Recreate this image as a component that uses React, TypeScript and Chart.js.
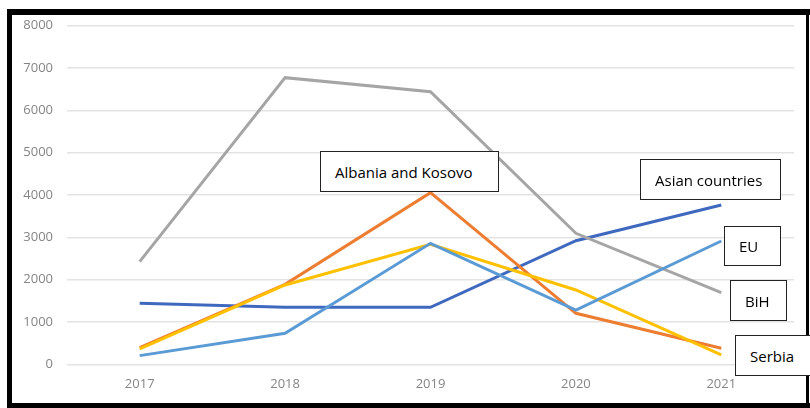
import React, { useEffect, useRef } from "react";
import { Chart, registerables } from "chart.js";

Chart.register(...registerables);

const years = ["2017", "2018", "2019", "2020", "2021"];
const asianCountries = [1441, 1346, 1346, 2921, 3764];
const albaniaKosovo = [394, 1890, 4055, 1205, 378];
const bih = [2425, 6772, 6441, 3094, 1693];
const serbia = [362, 1874, 2835, 1756, 220];
const eu = [205, 732, 2858, 1283, 2913];
const yTicks = [0, 1000, 2000, 3000, 4000, 5000, 6000, 7000, 8000];

const seriesList = [
  { name: "Asian countries", data: asianCountries, color: "#3F68BF" },
  { name: "Albania and Kosovo", data: albaniaKosovo, color: "#ED7D31" },
  { name: "BiH", data: bih, color: "#A5A5A5" },
  { name: "Serbia", data: serbia, color: "#FFC000" },
  { name: "EU", data: eu, color: "#5B9BD5" },
];

const labelBoxes = [
  { text: "Albania and Kosovo", left: 320, top: 151, width: 179, height: 41 },
  { text: "Asian countries", left: 640, top: 159, width: 141, height: 41 },
  { text: "EU", left: 724, top: 226, width: 57, height: 40 },
  { text: "BiH", left: 730, top: 280, width: 57, height: 41 },
  { text: "Serbia", left: 735, top: 335, width: 80, height: 41 },
];

export default function App() {
  const ref = useRef<HTMLCanvasElement | null>(null);

  useEffect(() => {
    document.body.style.margin = "0";
    if (!ref.current) return;
    const tickFont = { family: "'Open Sans', 'DejaVu Sans', sans-serif", size: 13 };
    const chart = new Chart(ref.current, {
      type: "line",
      data: {
        labels: years,
        datasets: seriesList.map((s, i) => ({
          label: s.name,
          data: s.data,
          borderColor: s.color,
          backgroundColor: s.color,
          borderWidth: 3,
          pointRadius: 0,
          tension: 0,
          fill: false,
          order: seriesList.length - i,
        })),
      },
      options: {
        animation: false,
        responsive: false,
        maintainAspectRatio: false,
        layout: { padding: { left: 0, right: 16, top: 25.7, bottom: 0 } },
        plugins: { legend: { display: false }, tooltip: { enabled: false } },
        scales: {
          x: {
            offset: true,
            grid: { display: false, drawTicks: false },
            border: { display: false },
            ticks: { color: "#858585", font: tickFont, padding: 12, maxRotation: 0 },
            afterFit: (scale: any) => {
              scale.height = 408 - 364.3;
            },
          },
          y: {
            min: 0,
            max: 8000,
            afterBuildTicks: (scale: any) => {
              scale.ticks = yTicks.map((v) => ({ value: v }));
            },
            grid: { color: "#E3E3E3", lineWidth: 1.5, drawTicks: false },
            border: { display: false },
            ticks: {
              color: "#858585",
              font: tickFont,
              padding: 14,
              callback: (v: any) => String(v),
            },
            afterFit: (scale: any) => {
              scale.width = 67;
            },
          },
        },
      },
    });
    return () => chart.destroy();
  }, []);

  return (
    <div style={{ position: "relative", width: 810, height: 408, background: "#fff", overflow: "hidden" }}>
      <canvas ref={ref} width={810} height={408} style={{ position: "absolute", left: 0, top: 0 }} />
      <div style={{ position: "absolute", left: 7, top: 9, width: 810, height: 6, background: "#000" }} />
      <div style={{ position: "absolute", left: 7, top: 9, width: 5, height: 400, background: "#000" }} />
      <div style={{ position: "absolute", left: 7, top: 403, width: 810, height: 5, background: "#000" }} />
      <div style={{ position: "absolute", left: 806, top: 9, width: 3, height: 400, background: "#000" }} />
      {labelBoxes.map((b) => (
        <div
          key={b.text}
          style={{
            position: "absolute",
            left: b.left,
            top: b.top,
            width: b.width,
            height: b.height,
            boxSizing: "border-box",
            border: "1.5px solid #222",
            background: "#fff",
            display: "flex",
            alignItems: "center",
            paddingLeft: 14,
            fontFamily: "'Open Sans', 'DejaVu Sans', sans-serif",
            fontSize: 15,
            color: "#000",
            whiteSpace: "nowrap",
          }}
        >
          {b.text}
        </div>
      ))}
    </div>
  );
}
